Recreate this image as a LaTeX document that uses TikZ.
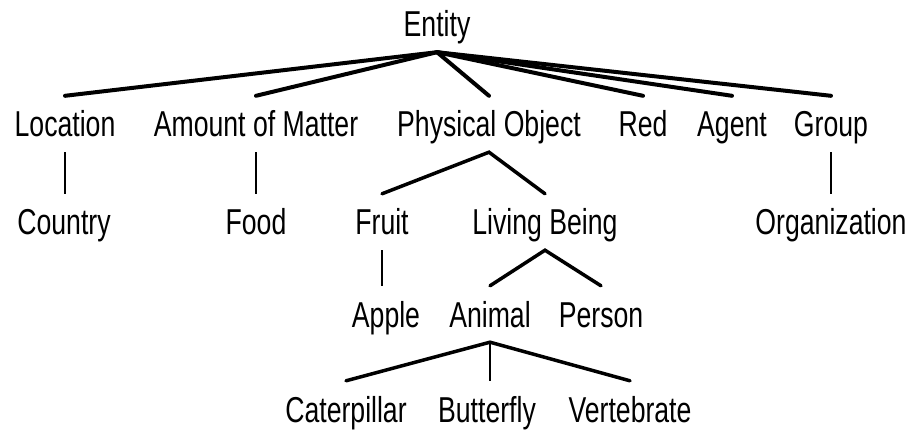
\documentclass[tikz,border=0pt]{standalone}
\usepackage{fontspec}
\setmainfont[FakeStretch=0.74]{Liberation Sans}

\begin{document}
\begin{tikzpicture}[x=1pt, y=-1pt,
  concept/.style={anchor=base, font=\fontsize{36}{40}\selectfont,
    text height=26pt, text depth=0pt, inner xsep=0pt, inner ysep=15pt},
  toplink/.style={line width=4pt, line cap=round},
  branch/.style={line width=3.5pt, line cap=round},
  stem/.style={line width=2.5pt}]
  \useasboundingbox (0,0) rectangle (907,430);
  % root
  \node[concept] (entity) at (437,37) {Entity};
  % first level
  \node[concept] (location) at (65,137) {Location};
  \node[concept] (matter)   at (256,137) {Amount of Matter};
  \node[concept] (physobj)  at (489,137) {Physical Object};
  \node[concept] (red)      at (643,137) {Red};
  \node[concept] (agent)    at (732,137) {Agent};
  \node[concept] (group)    at (831,137) {Group};
  % second level
  \node[concept] (country)  at (64,235) {Country};
  \node[concept] (food)     at (256,235) {Food};
  \node[concept] (fruit)    at (382,235) {Fruit};
  \node[concept] (living)   at (545,235) {Living Being};
  \node[concept] (org)      at (831,235) {Organization};
  % third level
  \node[concept] (apple)    at (386,327) {Apple};
  \node[concept] (animal)   at (490,327) {Animal};
  \node[concept] (person)   at (601,327) {Person};
  % fourth level
  \node[concept] (caterp)   at (346,422) {Caterpillar};
  \node[concept] (butterfly) at (487,422) {Butterfly};
  \node[concept] (vertebr)  at (630,422) {Vertebrate};
  % links from the root
  \foreach \child in {location, matter, physobj, red, agent, group}
    \draw[toplink] (entity.south) -- (\child.north);
  % single children
  \draw[stem] (location.south) -- (location.south |- country.north);
  \draw[stem] (matter.south) -- (matter.south |- food.north);
  \draw[stem] (group.south) -- (group.south |- org.north);
  \draw[stem] (fruit.south) -- (fruit.south |- apple.north);
  % forks
  \draw[branch] (fruit.north) -- (physobj.south) -- (living.north);
  \draw[branch] (animal.north) -- (living.south) -- (person.north);
  \draw[branch] (caterp.north) -- (animal.south) -- (vertebr.north);
  \draw[stem] (animal.south) -- (animal.south |- butterfly.north);
\end{tikzpicture}
\end{document}
